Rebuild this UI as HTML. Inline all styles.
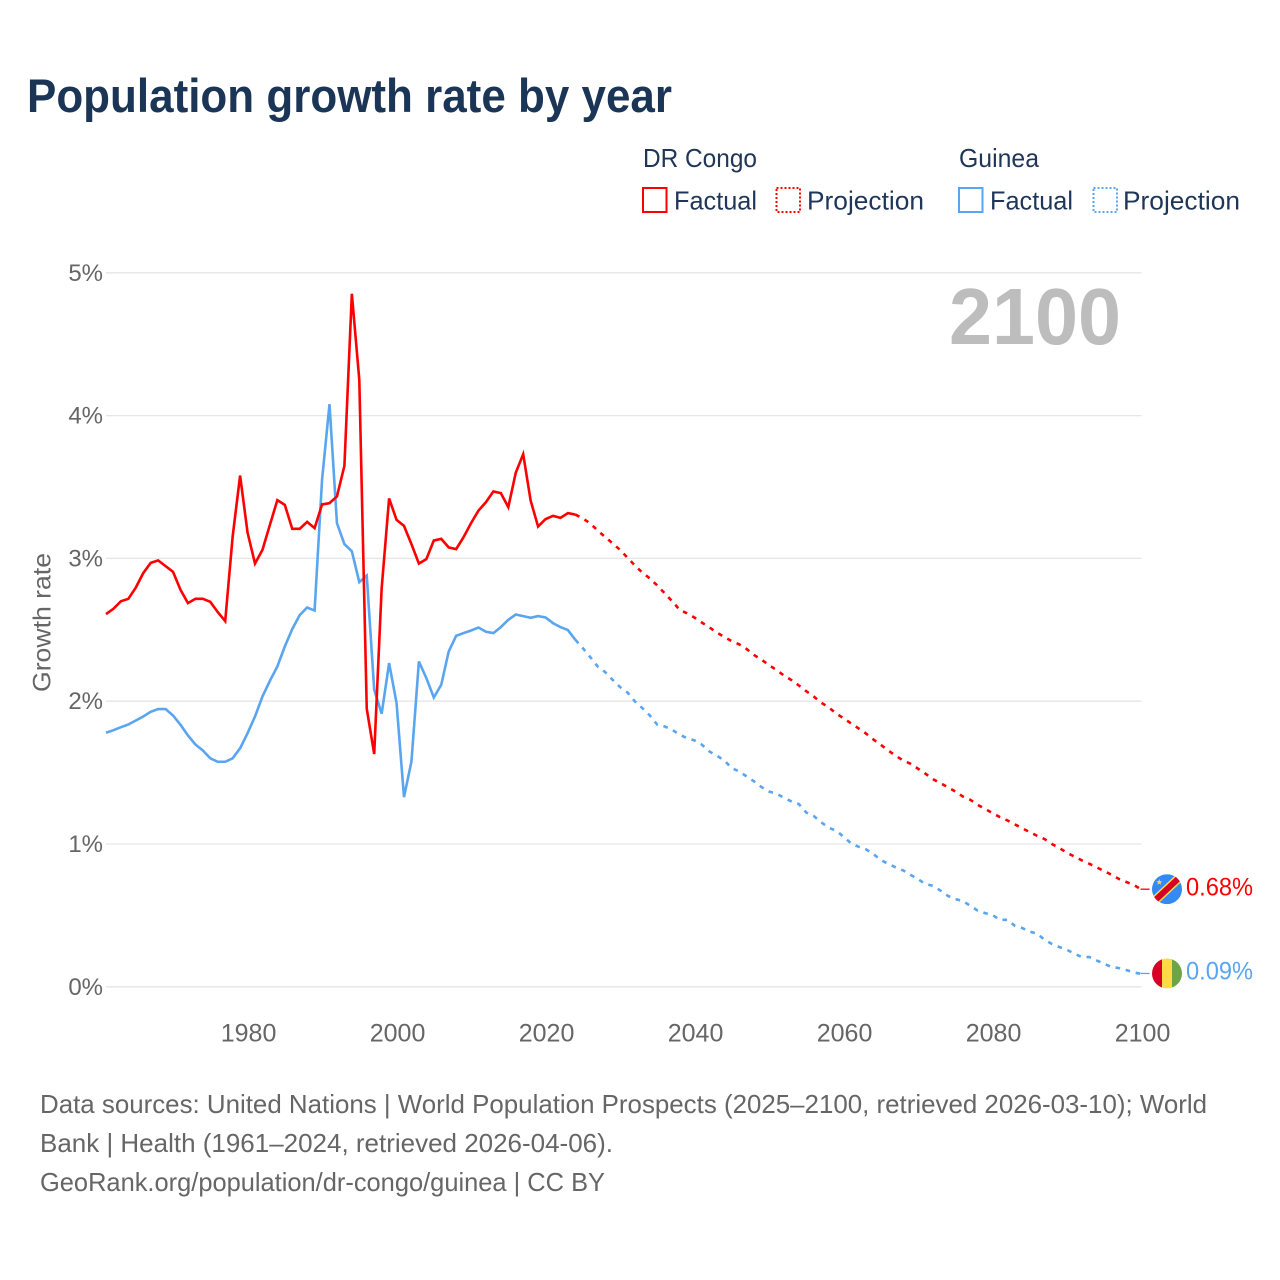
<!DOCTYPE html>
<html lang="en">
<head>
<meta charset="utf-8">
<title>Population growth rate by year</title>
<style>
  html, body { margin: 0; padding: 0; background: #ffffff; }
  svg { display: block; font-family: "Liberation Sans", sans-serif; }
</style>
</head>
<body>
<svg id="chart" xmlns="http://www.w3.org/2000/svg" width="1280" height="1280" viewBox="0 0 1280 1280">
  <defs>
    <clipPath id="flag-clip"><circle cx="0" cy="0" r="15"></circle></clipPath>
  </defs>
  <rect x="0" y="0" width="1280" height="1280" fill="#ffffff"></rect>

  <text x="27" y="112" font-size="47" font-weight="700" fill="#1a3556" textLength="645" lengthAdjust="spacingAndGlyphs">Population growth rate by year</text>

  <g font-size="26" fill="#1f3658">
    <text x="643" y="167" textLength="114" lengthAdjust="spacingAndGlyphs">DR Congo</text>
    <text x="959" y="167" textLength="80" lengthAdjust="spacingAndGlyphs">Guinea</text>

    <g>
      <rect x="643" y="188" width="23.5" height="24" fill="none" stroke="#ff0000" stroke-width="2"></rect>
      <text x="674" y="209.5" textLength="83" lengthAdjust="spacingAndGlyphs">Factual</text>
    </g>
    <g>
      <rect x="776.5" y="188" width="23.5" height="24" fill="none" stroke="#ff0000" stroke-width="2" stroke-dasharray="2 2"></rect>
      <text x="807" y="209.5" textLength="117" lengthAdjust="spacingAndGlyphs">Projection</text>
    </g>
    <g>
      <rect x="959" y="188" width="23.5" height="24" fill="none" stroke="#5aa5f0" stroke-width="2"></rect>
      <text x="990" y="209.5" textLength="83" lengthAdjust="spacingAndGlyphs">Factual</text>
    </g>
    <g>
      <rect x="1093.5" y="188" width="23.5" height="24" fill="none" stroke="#5aa5f0" stroke-width="2" stroke-dasharray="2 2"></rect>
      <text x="1123" y="209.5" textLength="117" lengthAdjust="spacingAndGlyphs">Projection</text>
    </g>
  </g>

  <g id="grid"></g>
  <g id="y-ticks"></g>
  <g id="x-ticks"></g>

  <text transform="translate(50.5,692) rotate(-90)" x="0" y="0" font-size="25" fill="#666666" textLength="139" lengthAdjust="spacingAndGlyphs">Growth rate</text>

  <text x="949" y="344" font-size="80" font-weight="700" fill="#bdbdbd" textLength="172" lengthAdjust="spacingAndGlyphs">2100</text>

  <g id="series"></g>

  <g id="flag-dr-congo">
    <g clip-path="url(#flag-clip)">
      <rect x="-15" y="-15" width="30" height="30" fill="#338af3"></rect>
      <line x1="-16" y1="15" x2="16" y2="-15" stroke="#ffda44" stroke-width="9"></line>
      <line x1="-16" y1="15" x2="16" y2="-15" stroke="#d80027" stroke-width="6"></line>
      <polygon points="-7.7,-10.2 -6.9,-8 -4.6,-8 -6.4,-6.6 -5.8,-4.4 -7.7,-5.7 -9.6,-4.4 -9,-6.6 -10.8,-8 -8.5,-8" fill="#ffda44"></polygon>
    </g>
  </g>
  <g id="flag-guinea">
    <g clip-path="url(#flag-clip)">
      <rect x="-15" y="-15" width="10" height="30" fill="#d80027"></rect>
      <rect x="-5" y="-15" width="10" height="30" fill="#ffda44"></rect>
      <rect x="5" y="-15" width="10" height="30" fill="#6da544"></rect>
    </g>
  </g>

  <g font-size="26" fill="#666666">
    <text x="40" y="1113" textLength="1167" lengthAdjust="spacingAndGlyphs">Data sources: United Nations | World Population Prospects (2025–2100, retrieved 2026-03-10); World</text>
    <text x="40" y="1152" textLength="573" lengthAdjust="spacingAndGlyphs">Bank | Health (1961–2024, retrieved 2026-04-06).</text>
    <text x="40" y="1191" textLength="565" lengthAdjust="spacingAndGlyphs">GeoRank.org/population/dr-congo/guinea | CC BY</text>
  </g>
</svg>

<script>
const factualStartYear = 1961;
const projectionStartYear = 2024;

const xTickYears = [1980, 2000, 2020, 2040, 2060, 2080, 2100];
const yTickValues = [0, 1, 2, 3, 4, 5];

// DR Congo, 1961–2024
const drCongoFactual = [
  2.61, 2.647, 2.70, 2.717, 2.796, 2.897, 2.969, 2.986, 2.946, 2.906,
  2.78, 2.687, 2.717, 2.717, 2.696, 2.624, 2.561, 3.153, 3.58, 3.181,
  2.964, 3.06, 3.235, 3.408, 3.375, 3.207, 3.207, 3.256, 3.212, 3.378,
  3.387, 3.434, 3.648, 4.853, 4.25, 1.947, 1.63, 2.79, 3.42, 3.27,
  3.228, 3.10, 2.964, 2.995, 3.125, 3.137, 3.077, 3.065, 3.149, 3.247,
  3.335, 3.394, 3.469, 3.457, 3.359, 3.60, 3.73, 3.405, 3.223, 3.275,
  3.298, 3.284, 3.317, 3.307
];

// Guinea, 1961–2024
const guineaFactual = [
  1.779, 1.797, 1.818, 1.837, 1.865, 1.893, 1.926, 1.945, 1.945, 1.90,
  1.835, 1.76, 1.697, 1.655, 1.60, 1.576, 1.576, 1.60, 1.67, 1.776,
  1.893, 2.033, 2.143, 2.243, 2.383, 2.505, 2.603, 2.656, 2.635, 3.55,
  4.08, 3.247, 3.10, 3.05, 2.834, 2.88, 2.08, 1.912, 2.267, 1.987,
  1.328, 1.578, 2.278, 2.162, 2.026, 2.115, 2.348, 2.458, 2.477, 2.495,
  2.516, 2.486, 2.477, 2.519, 2.57, 2.607, 2.596, 2.584, 2.596, 2.586,
  2.547, 2.519, 2.498, 2.43
];

// DR Congo, 2024–2100
const drCongoProjection = [
  3.307,
  3.28, 3.245, 3.195, 3.15, 3.105, 3.06,
  3.005, 2.95, 2.90, 2.86, 2.81, 2.755, 2.70, 2.64, 2.615, 2.585,
  2.55, 2.517, 2.48, 2.45, 2.42, 2.398, 2.365, 2.323, 2.29, 2.253,
  2.218, 2.18, 2.148, 2.11, 2.07, 2.033, 1.99, 1.957, 1.915, 1.88,
  1.845, 1.81, 1.774, 1.732, 1.695, 1.655, 1.618, 1.585, 1.562, 1.527,
  1.492, 1.454, 1.426, 1.398, 1.368, 1.333, 1.31, 1.274, 1.246, 1.216,
  1.188, 1.165, 1.137, 1.11, 1.083, 1.057, 1.034, 0.999, 0.971, 0.938,
  0.912, 0.885, 0.861, 0.836, 0.81, 0.784, 0.754, 0.733, 0.712, 0.68
];

// Guinea, 2024–2100
const guineaProjection = [
  2.43,
  2.372, 2.309, 2.243, 2.204, 2.15, 2.099,
  2.061, 1.998, 1.951, 1.90, 1.835, 1.823, 1.80, 1.765, 1.741, 1.725,
  1.695, 1.648, 1.618, 1.585, 1.531, 1.508, 1.473, 1.438, 1.398, 1.368,
  1.352, 1.324, 1.298, 1.28, 1.22, 1.196, 1.152, 1.114, 1.093, 1.051,
  1.005, 0.981, 0.963, 0.93, 0.888, 0.861, 0.836, 0.815, 0.784, 0.754,
  0.719, 0.707, 0.674, 0.637, 0.614, 0.602, 0.567, 0.534, 0.516, 0.502,
  0.469, 0.469, 0.427, 0.411, 0.387, 0.371, 0.329, 0.299, 0.278, 0.259,
  0.231, 0.208, 0.208, 0.184, 0.161, 0.138, 0.131, 0.117, 0.10, 0.09
];

const SVG_NS = 'http://www.w3.org/2000/svg';
const RED = '#ff0000';
const BLUE = '#5aa5f0';

function xScale(year) { return 106 + 7.45 * (year - 1961); }
function yScale(value) { return 986.8 - 142.8 * value; }

function linePath(values, startYear) {
  return values.map(function (v, i) {
    return (i === 0 ? 'M' : 'L') + xScale(startYear + i).toFixed(2) + ' ' + yScale(v).toFixed(2);
  }).join(' ');
}

function make(tag, parent) {
  const el = document.createElementNS(SVG_NS, tag);
  parent.appendChild(el);
  return el;
}

const gridGroup = document.getElementById('grid');
const yTickGroup = document.getElementById('y-ticks');
const xTickGroup = document.getElementById('x-ticks');
const seriesGroup = document.getElementById('series');

yTickValues.forEach(function (v) {
  const gridLine = make('line', gridGroup);
  
  
  gridLine.setAttribute('x1', xScale(1961));
  gridLine.setAttribute('x2', xScale(2100));
  gridLine.setAttribute('y1', yScale(v));
  gridLine.setAttribute('y2', yScale(v));
  gridLine.setAttribute('stroke', '#e6e6e6');
  gridLine.setAttribute('stroke-width', '1.3');

  const label = make('text', yTickGroup);
  
  
  label.setAttribute('x', '103');
  label.setAttribute('y', yScale(v) + 8);
  label.setAttribute('text-anchor', 'end');
  label.setAttribute('font-size', '24');
  label.setAttribute('fill', '#666666');
  label.textContent = v + '%';
});

xTickYears.forEach(function (year) {
  const label = make('text', xTickGroup);
  
  
  label.setAttribute('x', xScale(year) + 1);
  label.setAttribute('y', '1041.5');
  label.setAttribute('text-anchor', 'middle');
  label.setAttribute('font-size', '25');
  label.setAttribute('fill', '#666666');
  label.textContent = String(year);
});

function drawSeries(name, values, startYear, color, dashed) {
  const path = make('path', seriesGroup);
  
  
  path.setAttribute('d', linePath(values, startYear));
  path.setAttribute('fill', 'none');
  path.setAttribute('stroke', color);
  path.setAttribute('stroke-width', '2.6');
  path.setAttribute('stroke-linejoin', 'miter');
  if (dashed) {
    path.setAttribute('stroke-dasharray', '4.6 5.8');
  }
}

drawSeries('guinea-factual-line', guineaFactual, factualStartYear, BLUE, false);
drawSeries('dr-congo-factual-line', drCongoFactual, factualStartYear, RED, false);
drawSeries('guinea-projection-line', guineaProjection, projectionStartYear, BLUE, true);
drawSeries('dr-congo-projection-line', drCongoProjection, projectionStartYear, RED, true);

function drawEnd(name, values, color, flagId) {
  const last = values[values.length - 1];
  const endY = yScale(last) - 0.5;

  const leader = make('line', seriesGroup);
  
  
  leader.setAttribute('x1', xScale(2100) - 1);
  leader.setAttribute('x2', xScale(2100) + 8);
  leader.setAttribute('y1', endY);
  leader.setAttribute('y2', endY);
  leader.setAttribute('stroke', color);
  leader.setAttribute('stroke-width', '1.3');

  document.getElementById(flagId).setAttribute('transform', 'translate(1167,' + endY + ')');

  const valueLabel = make('text', seriesGroup);
  
  
  valueLabel.setAttribute('x', '1186');
  valueLabel.setAttribute('y', endY + 6.2);
  valueLabel.setAttribute('font-size', '25');
  valueLabel.setAttribute('fill', color);
  valueLabel.setAttribute('textLength', '67');
  valueLabel.setAttribute('lengthAdjust', 'spacingAndGlyphs');
  valueLabel.textContent = last.toFixed(2) + '%';
}

drawEnd('dr-congo', drCongoProjection, RED, 'flag-dr-congo');
drawEnd('guinea', guineaProjection, BLUE, 'flag-guinea');
</script>
</body>
</html>
